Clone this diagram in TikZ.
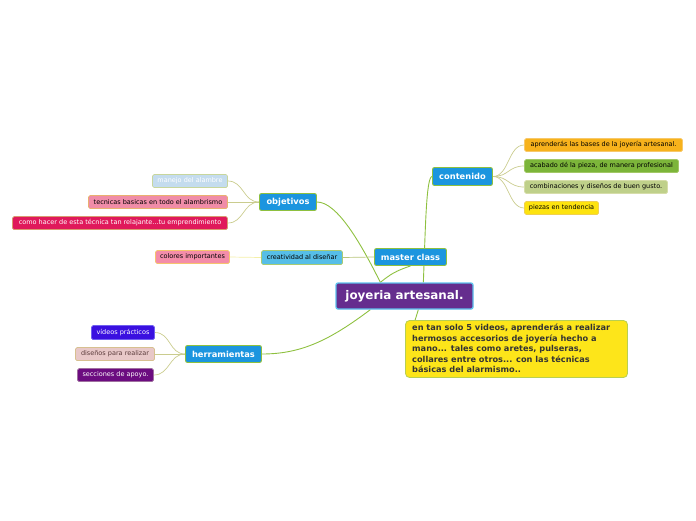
\documentclass[tikz,border=0pt]{standalone}
\usepackage{fontspec}
\setmainfont{DejaVu Sans}
\usetikzlibrary{calc,backgrounds}
\definecolor{rootpurple}{HTML}{652D8E}
\definecolor{rootedge}{HTML}{5CC0EC}
\definecolor{mainblue}{HTML}{1B95DF}
\definecolor{branchgreen}{HTML}{8EC03F}
\definecolor{leafline}{HTML}{CACC8E}
\definecolor{notefill}{HTML}{FDE51A}
\definecolor{noteedge}{HTML}{B8CF52}
\definecolor{notetext}{HTML}{333333}
\definecolor{creafill}{HTML}{56BEE7}
\definecolor{creaedge}{HTML}{A9CB72}
\definecolor{colfill}{HTML}{F48DA9}
\definecolor{coledge}{HTML}{F5C46E}
\definecolor{cafill}{HTML}{F7B21C}
\definecolor{caedge}{HTML}{F7C86A}
\definecolor{cbfill}{HTML}{7CB53A}
\definecolor{cbedge}{HTML}{A2C866}
\definecolor{ccfill}{HTML}{BFD08A}
\definecolor{ccedge}{HTML}{D6DDA9}
\definecolor{cdfill}{HTML}{FDE30F}
\definecolor{cdedge}{HTML}{F0D050}
\definecolor{oafill}{HTML}{C4DCEE}
\definecolor{oaedge}{HTML}{C8D69C}
\definecolor{obfill}{HTML}{F08CA8}
\definecolor{obedge}{HTML}{E9B070}
\definecolor{ocfill}{HTML}{E0195B}
\definecolor{ocedge}{HTML}{D89A70}
\definecolor{hafill}{HTML}{3A10E0}
\definecolor{haedge}{HTML}{7060F0}
\definecolor{hbfill}{HTML}{E8C8C8}
\definecolor{hbedge}{HTML}{D7C090}
\definecolor{hbtext}{HTML}{5A3A3A}
\definecolor{hcfill}{HTML}{6C0C80}
\definecolor{hcedge}{HTML}{A070A0}
\definecolor{crealine}{HTML}{B8C47A}
\definecolor{colline}{HTML}{F4EFA8}

\begin{document}
\begin{tikzpicture}[x=1pt,y=-1pt,
  rootbox/.style={fill=rootpurple,draw=rootedge,line width=1.3pt,rounded corners=2pt,text=white,
    font=\fontsize{11.9}{13}\selectfont\bfseries,minimum width=137pt,minimum height=26pt,inner sep=0pt},
  mainbox/.style={fill=mainblue,draw=branchgreen,line width=0.9pt,rounded corners=2pt,text=white,
    font=\fontsize{8.3}{9}\selectfont\bfseries,minimum height=17pt,inner sep=0pt},
  leafbox/.style={rounded corners=1.5pt,line width=0.7pt,font=\fontsize{6.5}{7}\selectfont,
    minimum height=13pt,inner sep=0pt},
  trunk/.style={draw=branchgreen,line width=0.9pt},
  twig/.style={draw=leafline,line width=0.7pt}]
  \useasboundingbox (0,0) rectangle (696,520);
  % centre and main branches
  \node[rootbox] (root) at (404.5,296) {joyeria artesanal.};
  \node[mainbox,minimum width=72pt] (master) at (410.5,257) {master class};
  \node[mainbox,minimum width=60pt,minimum height=18pt] (contenido) at (462.5,176.5) {contenido};
  \node[mainbox,minimum width=57pt] (objetivos) at (288,202) {objetivos};
  \node[mainbox,minimum width=76pt] (herramientas) at (223.5,354) {herramientas};
  \node[leafbox,fill=creafill,draw=creaedge,minimum width=81pt,minimum height=14pt] (creatividad) at (302,257.5) {creatividad al diseñar};
  \node[leafbox,fill=colfill,draw=coledge,minimum width=74pt] (colores) at (192.5,257) {colores importantes};
  % contenido
  \node[leafbox,fill=cafill,draw=caedge,minimum width=158pt] (c1) at (603.5,145) {aprenderás las bases de la joyería artesanal.};
  \node[leafbox,fill=cbfill,draw=cbedge,minimum width=154pt] (c2) at (601.5,166) {acabado dé la pieza, de manera profesional};
  \node[leafbox,fill=ccfill,draw=ccedge,minimum width=143pt] (c3) at (596,187) {combinaciones y diseños de buen gusto.};
  \node[leafbox,fill=cdfill,draw=cdedge,minimum width=74pt] (c4) at (561.5,208) {piezas en tendencia};
  % objetivos
  \node[leafbox,fill=oafill,draw=oaedge,text=white,minimum width=75pt] (o1) at (190,181) {manejo del alambre};
  \node[leafbox,fill=obfill,draw=obedge,minimum width=139pt] (o2) at (158,202) {tecnicas basicas en todo el alambrismo};
  \node[leafbox,fill=ocfill,draw=ocedge,text=white,minimum width=215pt] (o3) at (120,223) {como hacer de esta técnica tan relajante...tu emprendimiento};
  % herramientas
  \node[leafbox,fill=hafill,draw=haedge,text=white,minimum width=63pt,minimum height=14pt] (h1) at (123,332.5) {vídeos prácticos};
  \node[leafbox,fill=hbfill,draw=hbedge,text=hbtext,minimum width=79pt] (h2) at (115,354) {diseños para realizar};
  \node[leafbox,fill=hcfill,draw=hcedge,text=white,minimum width=76pt] (h3) at (115.5,375) {secciones de apoyo.};
  % nota
  \node[fill=notefill,draw=noteedge,line width=0.8pt,rounded corners=4pt,minimum width=222pt,minimum height=57pt,
    inner sep=0pt] (note) at (516.5,349) {};
  \node[anchor=north west,align=left,inner sep=0pt,text=notetext,font=\fontsize{8.2}{10.5}\selectfont\bfseries] (notetext) at (412,324)
    {en tan solo 5 videos, aprenderás a realizar\\hermosos accesorios de joyería hecho a\\mano... tales como aretes, pulseras,\\collares entre otros... con las técnicas\\básicas del alarmismo..};
  % connectors
  \begin{pgfonlayer}{background}
  \draw[trunk] ($(root.north west)+(45,0)$) .. controls +(10,-8) and +(-15,5) .. (master.south);
  \draw[trunk] ($(root.north west)+(45,0)$) .. controls +(-20,-40) and +(20,0) .. (objetivos.east);
  \draw[trunk] ($(root.north west)+(88,0)$) .. controls +(2,-50) and +(-6,0) .. (contenido.west);
  \draw[trunk] ($(root.south west)+(35,0)$) .. controls +(-40,30) and +(40,0) .. (herramientas.east);
  \draw[trunk] ($(root.south west)+(83,0)$) -- ($(note.north west)+(10,0)$);
  \draw[draw=crealine,line width=0.7pt] (master.west) -- (creatividad.east);
  \draw[draw=colline,line width=0.7pt] (creatividad.west) -- (colores.east);
  \foreach \leaf in {c1,c2,c3,c4}
    \draw[twig] (contenido.east) .. controls +(16,0) and +(-16,0) .. (\leaf.west);
  \foreach \leaf in {o1,o2,o3}
    \draw[twig] (objetivos.west) .. controls +(-16,0) and +(16,0) .. (\leaf.east);
  \foreach \leaf in {h1,h2,h3}
    \draw[twig] (herramientas.west) .. controls +(-16,0) and +(16,0) .. (\leaf.east);
  \end{pgfonlayer}
\end{tikzpicture}
\end{document}
